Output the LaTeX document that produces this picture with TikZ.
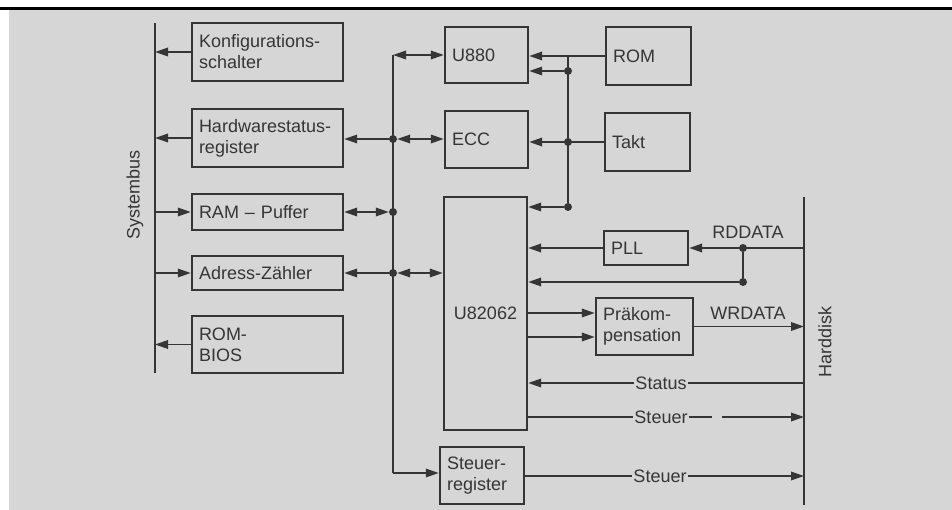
\documentclass[tikz,border=0pt]{standalone}
\usepackage{fontspec}
\setmainfont{Liberation Sans}
\usetikzlibrary{arrows.meta}
\definecolor{bg}{HTML}{D6D6D6}
\definecolor{ink}{HTML}{353535}
\begin{document}
\begin{tikzpicture}[x=1pt,y=-1pt,
  txt/.style={text=ink, font=\fontsize{18}{21}\selectfont},
  box/.style={txt, draw=ink, line width=2.4pt, inner xsep=7pt, inner ysep=0pt, align=left},
  lbl/.style={txt, inner sep=1pt},
  ln/.style={draw=ink, line width=1.8pt},
  arr/.style={-{Triangle[length=13pt,width=8.5pt]}},
  darr/.style={{Triangle[length=13pt,width=8.5pt]}-{Triangle[length=13pt,width=8.5pt]}},
  dot/.style={circle, fill=ink, inner sep=0pt, minimum size=8pt}]
% background
\useasboundingbox (0,0) rectangle (952,510);
\fill[white] (0,0) rectangle (952,510);
\fill[bg] (9,10) rectangle (952,510);
\fill[black] (0,7.5) rectangle (952,10);
% buses
\coordinate (sbtop) at (155,23);
\coordinate (sbbot) at (155,373);
\draw[ln] (sbtop) -- (sbbot);
\node[lbl, rotate=90] (sbl) at (135,195) {Systembus};
\coordinate (hdtop) at (804,197);
\coordinate (hdbot) at (804,505);
\draw[ln] (hdtop) -- (hdbot);
\node[lbl, rotate=90] (hdl) at (825,342) {Harddisk};
% left boxes
\node[box, text width=137pt, minimum height=58pt] (konf) at (267.5,52) {Konfigurations-\\schalter};
\node[box, text width=137pt, minimum height=58pt] (hw) at (267.5,138) {Hardwarestatus-\\register};
\node[box, text width=137pt, minimum height=36pt] (ram) at (267.5,212) {RAM -- Puffer};
\node[box, text width=137pt, minimum height=34pt] (adr) at (267.5,273) {Adress-Zähler};
\node[box, text width=137pt, minimum height=57pt] (rombios) at (267.5,344.5) {ROM-\\BIOS};
% middle boxes
\node[box, text width=69pt, minimum height=56pt] (u880) at (486.5,55) {U880};
\node[box, text width=69pt, minimum height=57pt] (ecc) at (486.5,139.5) {ECC};
\node[box, text width=69pt, minimum height=233pt, align=center] (u82062) at (485.5,313.5) {U82062};
\node[box, text width=70pt, minimum height=57pt] (sreg) at (482,475.5) {Steuer-\\register};
% right boxes
\node[box, text width=71pt, minimum height=58pt] (rom) at (648.5,56) {ROM};
\node[box, text width=71pt, minimum height=58pt] (takt) at (647.5,142) {Takt};
\node[box, text width=70pt, minimum height=34pt] (pll) at (646,248) {PLL};
\node[box, text width=83pt, minimum height=57pt] (praek) at (644.5,326.5) {Präkom-\\pensation};
% systembus connections
\draw[ln, arr] (konf.west) -- (konf.west -| sbtop);
\draw[ln, arr] (hw.west) -- (hw.west -| sbtop);
\draw[ln, arr] (ram.west -| sbtop) -- (ram.west);
\draw[ln, arr] (adr.west -| sbtop) -- (adr.west);
\draw[ln, arr] (rombios.west) -- (rombios.west -| sbtop);
% internal bus
\coordinate (c1) at (393,55);
\coordinate (c2) at (393,473);
\draw[ln] (c1) -- (c2);
\node[dot] (j1) at (393,139) {};
\node[dot] (j2) at (393,212) {};
\node[dot] (j3) at (393,273) {};
\draw[ln, darr] (c1) -- (c1 -| u880.west);
\draw[ln, arr] (j1) -- (j1 -| hw.east);
\draw[ln, darr] (j1) -- (j1 -| ecc.west);
\draw[ln, darr] (ram.east) -- (j2);
\draw[ln, arr] (j3) -- (j3 -| adr.east);
\draw[ln, darr] (j3) -- (j3 -| u82062.west);
\draw[ln, arr] (c2) -- (c2 -| sreg.west);
% clock / rom distribution
\coordinate (t0) at (568,56);
\node[dot] (t1) at (568,71) {};
\node[dot] (t2) at (568,142) {};
\node[dot] (t3) at (568,207) {};
\draw[ln] (t0) -- (t3);
\draw[ln, arr] (rom.west) -- (rom.west -| u880.east);
\draw[ln, arr] (t1) -- (t1 -| u880.east);
\draw[ln, arr] (takt.west) -- (takt.west -| ecc.east);
\draw[ln, arr] (t3) -- (t3 -| u82062.east);
% PLL / RDDATA
\draw[ln, arr] (pll.west) -- (pll.west -| u82062.east);
\coordinate (h1) at (804,248);
\node[dot] (r1) at (743,248) {};
\node[dot] (r2) at (743,282) {};
\draw[ln, arr] (h1) -- (h1 -| pll.east);
\draw[ln] (r1) -- (r2);
\draw[ln, arr] (r2) -- (r2 -| u82062.east);
\node[lbl] (rdl) at (748,232) {RDDATA};
% Praekompensation / WRDATA
\coordinate (p1) at (527,313);
\coordinate (p2) at (527,337);
\draw[ln, arr] (p1) -- (p1 -| praek.west);
\draw[ln, arr] (p2) -- (p2 -| praek.west);
\draw[ln, arr] (praek.east) -- (praek.east -| hdtop);
\node[lbl] (wrl) at (748,313) {WRDATA};
% Status
\coordinate (hs) at (804,383);
\draw[ln, arr] (hs) -- (hs -| u82062.east);
\node[lbl, fill=bg] (stl) at (661,383) {Status};
% Steuer 1
\coordinate (hs1) at (804,417);
\coordinate (gapL) at (712,417);
\coordinate (gapR) at (722,417);
\draw[ln] (hs1 -| u82062.east) -- (gapL);
\draw[ln, arr] (gapR) -- (hs1);
\node[lbl, fill=bg] (st1l) at (661,417) {Steuer};
% Steuer 2
\coordinate (hs2) at (804,476);
\draw[ln, arr] (hs2 -| sreg.east) -- (hs2);
\node[lbl, fill=bg] (st2l) at (660,476) {Steuer};
\end{tikzpicture}
\end{document}
